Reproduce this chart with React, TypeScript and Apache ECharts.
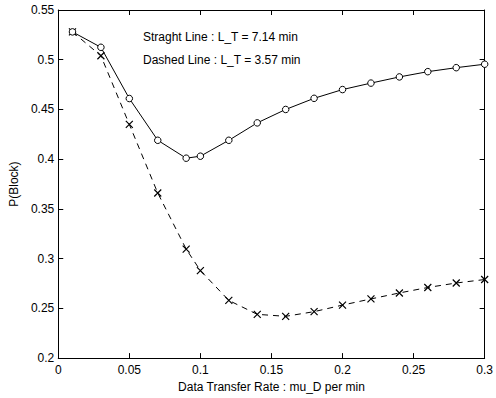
import React, { useEffect, useRef } from "react";
import * as echarts from "echarts";

const rates = [0.01, 0.03, 0.05, 0.07, 0.09, 0.1, 0.12, 0.14, 0.16, 0.18, 0.2, 0.22, 0.24, 0.26, 0.28, 0.3];
const straightLine = [0.528, 0.5125, 0.461, 0.419, 0.401, 0.403, 0.419, 0.4365, 0.45, 0.4612, 0.47, 0.4765, 0.4827, 0.488, 0.492, 0.4955];
const dashedLine = [0.528, 0.504, 0.435, 0.366, 0.3096, 0.288, 0.258, 0.244, 0.242, 0.2467, 0.2533, 0.2595, 0.2655, 0.271, 0.2755, 0.279];
const annotations = ["Straght Line : L_T = 7.14 min", "Dashed Line : L_T = 3.57 min"];

const FONT = "Liberation Sans";
const CROSS = "path://M0,0L10,10M10,0L0,10";

export default function App() {
  const ref = useRef<HTMLDivElement>(null);
  useEffect(() => {
    if (!ref.current) return;
    const chart = echarts.init(ref.current, undefined, { renderer: "svg" });
    const axisLine = { show: true, onZero: false, lineStyle: { color: "#000", width: 1 } };
    const tick = { show: true, inside: true, length: 5, lineStyle: { color: "#000" } };
    const label = { color: "#000", fontFamily: FONT, fontSize: 12 };
    chart.setOption({
      animation: false,
      backgroundColor: "#fff",
      grid: { left: 47.5, right: 9, top: 10, bottom: 34.3, containLabel: false },
      xAxis: [
        {
          type: "value", min: 0, max: 0.3, interval: 0.05, position: "bottom",
          axisLine, axisTick: tick, splitLine: { show: false },
          axisLabel: { ...label, margin: 6, formatter: (v: number) => String(+v.toFixed(2)) },
          name: "Data Transfer Rate : mu_D per min", nameLocation: "middle", nameGap: 21,
          nameTextStyle: { ...label },
        },
        {
          type: "value", min: 0, max: 0.3, interval: 0.05, position: "top",
          axisLine, axisTick: tick, splitLine: { show: false }, axisLabel: { show: false },
        },
      ],
      yAxis: [
        {
          type: "value", min: 0.2, max: 0.55, interval: 0.05, position: "left",
          axisLine, axisTick: tick, splitLine: { show: false },
          axisLabel: { ...label, margin: 4, formatter: (v: number) => String(+v.toFixed(2)) },
          name: "P(Block)", nameLocation: "middle", nameGap: 30,
          nameTextStyle: { ...label },
        },
        {
          type: "value", min: 0.2, max: 0.55, interval: 0.05, position: "right",
          axisLine, axisTick: tick, splitLine: { show: false }, axisLabel: { show: false },
        },
      ],
      series: [
        {
          type: "line",
          data: rates.map((x, i) => [x, straightLine[i]]),
          symbol: "circle", symbolSize: 6.5, showSymbol: true,
          lineStyle: { color: "#000", width: 1 },
          itemStyle: { color: "#fff", borderColor: "#000", borderWidth: 1 },
          z: 3,
        },
        {
          type: "line",
          data: rates.map((x, i) => [x, dashedLine[i]]),
          symbol: CROSS, symbolSize: 7, showSymbol: true,
          lineStyle: { color: "#000", width: 1, type: [6, 5] },
          itemStyle: { color: "none", borderColor: "#000", borderWidth: 1.2 },
          z: 2,
        },
      ],
      graphic: annotations.map((t, i) => ({
        type: "text", left: 143, top: 31 + i * 23,
        style: { text: t, fill: "#000", font: `12px "${FONT}"` },
      })),
    });
    return () => chart.dispose();
  }, []);
  return <div ref={ref} style={{ width: 496, height: 398, position: "absolute", left: 0, top: 0 }} />;
}
